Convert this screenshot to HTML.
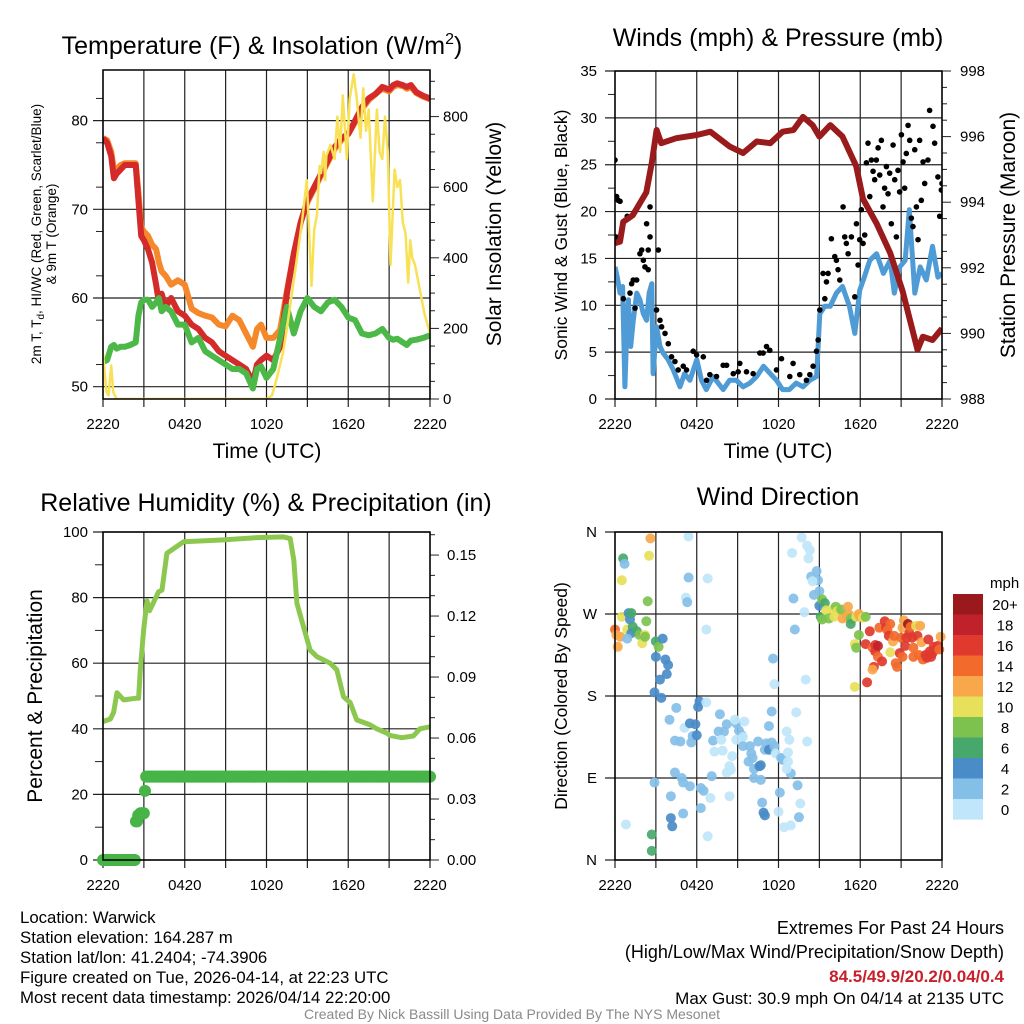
<!DOCTYPE html>
<html><head><meta charset="utf-8"><style>
html,body{margin:0;padding:0;background:#fff;}
svg{display:block;font-family:"Liberation Sans",Arial,sans-serif;}
</style></head><body>
<svg id="chart" width="1024" height="1024" viewBox="0 0 1024 1024" xmlns="http://www.w3.org/2000/svg"></svg>
<script>
// ---------- DATA ----------
const tTimes=[0,0.3,0.6,0.8,1.0,1.3,1.6,2.0,2.4,2.6,2.8,3.0,3.3,3.6,3.9,4.1,4.3,4.6,5.0,5.5,6.0,6.5,7.0,7.5,8.0,8.5,9.0,9.5,10.0,10.5,11.0,11.3,11.6,12.0,12.5,13.0,13.5,14.0,14.5,15.0,15.5,16.0,16.5,17.0,17.5,18.0,18.5,19.0,19.5,20.0,20.5,21.0,21.3,21.6,22.0,22.3,22.6,23.0,23.5,24.0];
const tempRed=[78,77.5,76,73.5,74,74.5,75,75,75,71,67,66.5,65.5,64,61.5,59.5,60.5,59,60,58.5,58,57,56.5,55.5,55,54,53.5,53,52.5,52,50.5,52.5,53,53.5,53,54.5,60.5,65,68.5,71,72.5,74,75.5,77,78,78.5,80,81.5,82.5,83,83.8,83.5,84,84.2,84,83.8,84,83.2,82.8,82.5];
const tempOrange=[78,77.8,76.5,74.5,74.5,75,75.2,75.2,75.2,72,68,67.5,67,66,65.5,64,63,62.5,61.5,62,61.5,58.8,58.3,58,57.8,57,56.8,58,57.5,56,54.5,56.5,57,55.5,55.5,56.4,60.8,65,68.5,70.8,72.3,73.8,75.3,76.8,77.8,78.5,79.8,81.3,82.3,83,83.6,83.3,83.8,84,83.9,83.6,83.8,83.1,82.7,82.4];
const dewGreen=[52.8,53,54.5,54.7,54.3,54.5,54.5,54.7,55,58,59.5,59.8,59.8,59,59.5,60,58.5,59,58.5,57,57,55,55.5,54,53.5,53,52.5,52,52,51.5,49.8,52,52.3,51,52,55.5,59,56,58.5,60,59,58.5,59.5,59.8,59,57.8,57.5,56,55.8,56,56.5,55.5,55.3,55.4,55,54.7,55.2,55.3,55.5,55.8];
const solTimes=[0,0.25,0.4,0.6,0.75,1.0,12.0,12.4,12.76,13.2,13.5,14.2,14.6,14.96,15.1,15.3,15.5,15.7,15.9,16.0,16.2,16.3,16.4,16.7,17.0,17.2,17.4,17.6,17.9,18.1,18.4,18.6,18.9,19.1,19.3,19.5,19.8,20.1,20.3,20.5,20.7,20.9,21.1,21.4,21.6,21.8,22.0,22.2,22.4,22.55,22.7,22.9,23.3,23.6,24];
const solar=[130,20,10,95,20,0,0,10,60,130,200,390,500,620,500,320,480,520,660,640,700,620,690,720,680,800,700,860,680,850,920,860,740,880,760,820,560,820,700,680,800,700,380,650,600,620,500,470,330,450,400,380,300,240,186];
const presTimes=[0,0.37,0.6,1.3,2.3,2.7,3.05,3.4,4.5,6,7,8.4,9.4,10.4,11.4,12.3,13.1,13.8,14.5,15,15.8,16.7,17.7,18.2,19.2,20.2,21.1,22.2,22.6,23.3,24];
const pressure=[992.75,992.8,993.4,993.6,994.3,995.2,996.2,995.8,995.95,996.05,996.15,995.7,995.5,995.85,995.8,996.15,996.2,996.6,996.35,996,996.35,996,995.1,994.1,993.35,992.45,991.3,989.5,989.9,989.8,990.15];
const windTimes=[0,0.17,0.37,0.56,0.73,0.86,0.98,1.15,1.34,1.6,1.83,2.08,2.32,2.5,2.7,2.8,3.05,3.3,3.54,3.9,4.28,4.77,5.1,5.5,6,6.35,6.7,7.2,7.94,8.4,8.9,9.4,9.9,10.4,10.9,11.4,11.85,12.3,12.8,13.3,13.8,14.3,14.8,15.03,15.4,15.8,16.25,16.7,17.2,17.6,17.96,18.3,18.7,19.2,19.7,20.2,20.5,20.9,21.3,21.6,22,22.4,22.85,23.3,23.7,24];
const windSpeed=[14.1,13,11.3,12,1.3,7,10.6,5.6,8.4,11.3,10.6,9.1,8.4,11.3,12.3,2.7,7.7,5.6,4.9,4.2,3.1,1.3,2.7,2,4.2,2,1,2.4,1,2,2,1.3,1.7,2.4,3.5,2.7,2,1,1,1.7,1.3,2,2.4,9.1,9.9,9.9,11.3,12,9.9,7,11.6,13,14.8,15.5,13.4,14.8,11.3,14.1,14.8,20.2,11.3,14.1,12.7,16.3,13,13.4];
const gustTimes=[0,0.12,0.24,0.37,0.07,0.61,1.1,1.22,1.34,0.9,1.47,1.59,1.83,1.96,2.08,2.2,2.32,2.44,2.57,2.57,2.44,3.18,3.05,3.3,3.42,3.67,3.91,4.15,4.4,4.64,5.01,5.25,5.74,5.99,6.48,6.72,6.96,7.45,7.94,8.19,8.68,9.04,9.16,9.65,10.14,10.63,10.87,11.12,11.36,11.85,12.22,12.83,13.07,13.56,14.05,14.3,14.54,14.79,14.91,15.03,15.27,15.4,15.52,15.64,15.88,16.13,16.25,16.37,16.5,16.74,16.86,16.98,17.11,17.35,17.6,17.72,17.84,17.96,18.08,18.21,18.33,18.45,18.57,18.7,18.82,18.94,19.06,19.18,19.31,19.43,19.55,19.67,19.79,19.92,20.04,20.16,20.28,20.41,20.53,20.65,20.77,20.89,21.02,21.14,21.26,21.38,21.51,21.63,21.75,21.87,22.0,22.12,22.24,22.36,22.48,22.61,22.73,22.97,23.09,23.34,23.46,23.7,23.83,23.95,24.0];
const gustSpeed=[25.5,21.6,21.2,21.1,17.3,10.7,11.3,12.3,12.7,19.5,9.7,12.7,15.5,15.9,14.8,14.1,18.7,15.9,17.3,20.5,13.8,15.9,9.5,8.4,7.7,7.0,5.9,4.5,4.0,3.1,3.5,3.1,5.1,4.7,4.5,2.0,2.6,2.4,3.6,3.6,2.7,2.9,3.8,2.9,2.7,4.9,4.9,5.6,5.2,3.1,4.3,2.4,3.8,2.6,2.0,2.6,3.5,5.1,6.3,9.5,13.4,10.7,12.5,13.4,17.1,15.2,14.8,13.8,12.7,20.5,17.3,16.6,15.5,17.3,10.9,18.7,14.3,17.0,20.2,16.6,17.5,25.2,27.3,21.6,25.5,24.3,23.4,25.5,26.8,23.9,27.6,20.5,22.5,24.8,21.9,24.1,18.7,27.1,23.4,17.3,24.4,22.1,28.2,25.3,22.5,26.2,29.2,27.6,19.3,18.4,26.6,20.5,17.0,27.6,21.2,25.3,23.0,25.5,30.8,29.1,27.3,23.7,19.5,22.3,23.0];
const rhTimes=[0,0.54,0.78,1.03,1.52,2.37,2.61,2.74,2.98,3.23,3.42,4.08,4.33,4.69,5.91,8.85,11.3,13.25,13.74,14.0,14.23,14.72,15.2,15.7,16.67,17.16,17.65,18.14,18.62,19.6,20.09,20.82,21.06,21.92,22.78,23.26,24];
const rh=[42.2,43,45,51,48.8,49.3,49.3,58,70,79,76,81.8,82.3,93.5,97,97.6,98.3,98.5,98,91.5,78.3,71,64,62,60,58,49.8,48,42.7,41.2,40,38.7,38,37.3,37.8,40,40.6];
const precipStepStart=[0,2.35,2.55,2.75,3.05,3.15];
const precipStepValue=[0,0.019,0.022,0.023,0.034,0.041];
const dirTimes=[0,0.1,0.4,0.2,0.5,0.9,0.6,0.7,0.5,1.0,1.1,1.2,1.3,1.2,1.6,1.8,2.0,2.2,2.3,2.4,2.6,2.5,2.2,0.9,3.0,3.2,3.5,3.0,3.7,3.9,3.8,3.3,2.9,3.4,4.0,4.5,4.4,4.8,5.1,5.5,5.9,5.6,5.7,6.0,6.1,6.2,6.7,7.7,8.2,8.9,9.5,8.8,7.6,8.0,9.1,9.3,9.4,7.2,7.8,7.9,7.3,8.9,8.6,9.4,9.9,10.0,10.1,9.8,10.2,10.6,10.7,10.5,11.0,11.1,11.5,11.3,11.7,11.8,12.2,12.3,12.7,12.8,12.6,13.3,11.6,11.7,14.0,14.1,11.3,11.5,8.4,8.5,8.2,7.1,6.3,6.5,7.0,8.4,6.3,5.0,4.1,4.4,4.9,5.0,5.5,2.9,4.1,4.2,6.8,0.8,2.7,2.7,10.8,10.9,11.0,10.2,10.7,12.1,12.0,12.4,12.9,13.5,13.6,13.4,12.9,12.6,12.7,5.4,5.4,6.8,5.2,5.3,6.7,13.7,13.0,14.1,14.3,14.2,13.1,13.9,13.2,14.4,14.8,14.9,14.5,15.0,14.6,15.0,15.2,15.4,15.1,15.2,15.5,15.7,16.0,16.2,16.1,16.3,16.6,16.7,17.0,17.1,17.2,17.3,17.4,17.3,17.7,17.9,18.0,18.2,18.4,17.9,17.6,17.7,17.6,18.4,18.5,18.7,18.9,19.0,18.9,19.1,19.1,19.3,19.4,19.3,19.6,19.8,19.9,20.0,20.1,20.2,20.2,20.4,20.5,20.6,20.7,20.9,21.0,21.1,21.1,21.2,21.3,21.4,21.5,21.6,21.7,21.8,21.9,22.1,22.2,22.3,22.4,22.5,22.6,22.7,22.9,23.0,23.1,23.3,23.4,23.5,23.7,23.8,23.9,22.8,23.2,21.9];
const dirDeg=[253,247,245,234,267,253,331,325,307,271,264,271,256,249,251,247,238,247,262,284,353,334,245,243,240,234,243,223,220,214,204,198,184,178,154,167,131,130,145,150,149,129,136,137,168,174,173,160,149,150,152,154,141,141,142,137,135,131,132,120,119,132,114,125,125,117,112,108,100,103,104,130,121,128,129,121,125,117,112,110,118,132,141,162,221,193,198,130,147,163,103,99,96,92,79,76,68,70,57,51,70,96,90,85,81,85,46,37,26,39,28,10,63,52,49,90,88,74,53,36,38,47,62,82,95,100,108,355,310,309,288,283,253,354,337,345,340,331,287,272,253,311,317,307,306,295,291,279,286,282,267,264,274,265,275,278,267,273,275,265,267,278,269,265,264,259,267,270,267,266,267,247,237,233,190,237,195,251,233,212,209,236,229,235,255,223,218,262,255,252,246,228,259,240,246,216,212,227,244,255,223,263,235,244,259,249,256,244,233,257,246,225,257,239,220,224,222,242,229,227,234,231,235,231,245,225,223,223];
const dirSpeed=[14,12,12,12,10,10,6,2,10,4,4,6,6,4,6,8,10,10,8,8,12,10,8,2,6,8,4,4,4,4,4,4,4,4,2,2,2,2,0,4,4,2,2,4,4,4,0,2,2,2,0,0,2,2,2,2,0,2,0,0,0,0,0,2,2,2,2,2,2,4,4,2,2,2,2,4,2,0,2,2,0,0,0,0,2,0,0,0,2,2,0,0,0,2,2,2,0,0,2,2,2,2,2,2,2,2,4,4,0,0,6,6,2,4,4,2,2,2,0,0,0,2,0,2,2,0,0,0,2,0,0,2,0,0,0,0,0,0,2,0,2,2,2,2,0,2,2,4,8,6,6,8,10,8,10,8,10,10,8,12,12,12,12,8,8,6,10,12,12,10,8,8,10,8,10,16,16,16,14,16,12,16,16,18,14,14,16,16,16,14,16,10,14,12,14,14,14,16,14,12,14,12,16,16,20,16,14,16,14,10,16,14,12,12,14,14,16,16,16,16,16,16,16,14,12,16,16,14];
const speedColors=["#bfe6fa","#84bfe8","#4a8cc8","#46a86a","#7dc24e","#e6e05a","#f8a84a","#f26a2c","#e03a2e","#c0212a","#99191c"];
const speedLabels=["0","2","4","6","8","10","12","14","16","18","20+"];
const timeLabels=["2220","0420","1020","1620","2220"];

// ---------- HELPERS ----------
const svg=document.getElementById('chart');
const NS='http://www.w3.org/2000/svg';
function mk(tag,attrs,parent){const e=document.createElementNS(NS,tag);for(const k in attrs)e.setAttribute(k,attrs[k]);(parent||svg).appendChild(e);return e;}
function txt(s,x,y,size,anchor,parent,extra){const e=mk('text',Object.assign({x:x,y:y,'font-size':size,'text-anchor':anchor||'middle',fill:'#000'},extra||{}),parent);e.textContent=s;return e;}
function pathOf(xs,ys,fx,fy){let d='';for(let i=0;i<xs.length;i++){d+=(i?'L':'M')+fx(xs[i]).toFixed(1)+','+fy(ys[i]).toFixed(1);}return d;}

const W=327;
const TK=15;
function frame(x0,y0,x1,y1,name){
  const r=mk('rect',{x:x0,y:y0,width:x1-x0,height:y1-y0,fill:'none',stroke:'#000','stroke-width':1.5});
  
  
}
function vgrid(x0,y0,y1,g){
  for(let k=0;k<=8;k++){const x=x0+k*W/8;
    const l=mk('line',{x1:x,x2:x,y1:y0,y2:y1+8,stroke:'#222','stroke-width':1.2},g);
    
    }
  for(let i=0;i<timeLabels.length;i++){const t=txt(timeLabels[i],x0+i*W/4,y1+30,TK,'middle',g);
    
    }
}
function hgrid(x0,ys,g){for(const y of ys){const l=mk('line',{x1:x0-10,x2:x0+W,y1:y,y2:y,stroke:'#222','stroke-width':1.2},g);
  
  }}
function ticks(x,ys,len,g){for(const y of ys){const l=mk('line',{x1:x,x2:x+len,y1:y,y2:y,stroke:'#222','stroke-width':1},g);
  
  }}

// ---------- PANEL 1 ----------
(function(){
const g=mk('g',{});


const X=h=>103+h*W/24, YT=t=>386.7-(t-50)*8.87, YS=w=>399-w*0.353;
vgrid(103,70,399,g);
hgrid(103,[50,60,70,80].map(YT),g);
const mins=[];for(let t=52.5;t<=85;t+=5)mins.push(YT(t));ticks(103,mins,-7,g);
const rmaj=[],rmin=[];for(let w=0;w<=900;w+=50){(w%200===0?rmaj:rmin).push(YS(w));}
ticks(430,rmaj,9,g);ticks(430,rmin,5,g);
[50,60,70,80].forEach(t=>{const e=txt(String(t),88,YT(t)+5,TK,'end',g);
  
  });
[0,200,400,600,800].forEach(w=>{const e=txt(String(w),443,YS(w)+5,TK,'start',g);
  
  });
const clip=mk('clipPath',{id:'c1'},g);mk('rect',{x:103,y:70,width:W,height:329},clip);
const pg=mk('g',{'clip-path':'url(#c1)'},g);
const o=mk('path',{d:pathOf(tTimes,tempOrange,X,YT),fill:'none',stroke:'#f5882a','stroke-width':6,'stroke-linejoin':'round'},pg);


const r=mk('path',{d:pathOf(tTimes,tempRed,X,YT),fill:'none',stroke:'#d42a2a','stroke-width':6,'stroke-linejoin':'round'},pg);


const gr=mk('path',{d:pathOf(tTimes,dewGreen,X,YT),fill:'none',stroke:'#4cb848','stroke-width':6,'stroke-linejoin':'round'},pg);


const s=mk('path',{d:pathOf(solTimes,solar,X,YS),fill:'none',stroke:'#f9e155','stroke-width':2.5,'stroke-linejoin':'round'},pg);


frame(103,70,430,399,'temperature-plot-frame');
const t=txt('Temperature (F) & Insolation (W/m',262,54,25,'middle',g);
const sup=mk('tspan',{'font-size':16,dy:-10},t);sup.textContent='2';
const cl=mk('tspan',{'font-size':25,dy:10},t);cl.textContent=')';


const yl=txt('',0,0,13.5,'middle',g,{transform:'translate(41,234) rotate(-90)'});
yl.innerHTML='2m T, T<tspan font-size="10" dy="3">d</tspan><tspan dy="-3">, HI/WC (Red, Green, Scarlet/Blue)</tspan>';


const yl2=txt('& 9m T (Orange)',0,0,13.5,'middle',g,{transform:'translate(56,234) rotate(-90)'});


const yr=txt('Solar Insolation (Yellow)',0,0,21,'middle',g,{transform:'translate(501,234) rotate(-90)'});


const xt=txt('Time (UTC)',267,458,21,'middle',g);


})();

// ---------- PANEL 2 ----------
(function(){
const g=mk('g',{});


const X=h=>615+h*W/24, YW=v=>399-v*9.371, YP=p=>399-(p-988)*32.8;
vgrid(615,71,399,g);
hgrid(615,[0,5,10,15,20,25,30,35].map(YW),g);
const mins=[];for(let v=2.5;v<35;v+=5)mins.push(YW(v));ticks(615,mins,-7,g);
const rmaj=[],rmin=[];for(let p=988;p<=998.01;p+=0.5){(Math.abs(p%2)<0.01?rmaj:rmin).push(YP(p));}
ticks(942,rmaj,9,g);ticks(942,rmin,5,g);
[0,5,10,15,20,25,30,35].forEach(v=>{const e=txt(String(v),597,YW(v)+5,TK,'end',g);
  
  });
[988,990,992,994,996,998].forEach(p=>{const e=txt(String(p),960,YP(p)+5,TK,'start',g);
  
  });
const clip=mk('clipPath',{id:'c2'},g);mk('rect',{x:615,y:71,width:W,height:328},clip);
const pg=mk('g',{'clip-path':'url(#c2)'},g);
const b=mk('path',{d:pathOf(windTimes,windSpeed,X,YW),fill:'none',stroke:'#4f9bd6','stroke-width':5,'stroke-linejoin':'round'},pg);


for(let i=0;i<gustTimes.length;i++){const c=mk('circle',{cx:X(gustTimes[i]),cy:YW(gustSpeed[i]),r:2.8,fill:'#000'},pg);
  
  }
const p=mk('path',{d:pathOf(presTimes,pressure,X,YP),fill:'none',stroke:'#991b1b','stroke-width':6,'stroke-linejoin':'round'},pg);


frame(615,71,942,399,'winds-plot-frame');
const t=txt('Winds (mph) & Pressure (mb)',778,46,25,'middle',g);


const yl=txt('Sonic Wind & Gust (Blue, Black)',0,0,17.5,'middle',g,{transform:'translate(567,235) rotate(-90)'});


const yr=txt('Station Pressure (Maroon)',0,0,21,'middle',g,{transform:'translate(1015,235) rotate(-90)'});


const xt=txt('Time (UTC)',778,458,21,'middle',g);


})();

// ---------- PANEL 3 ----------
(function(){
const g=mk('g',{});


const X=h=>103+h*W/24, YR=r=>860-r*3.28, YPr=p=>860-p*2033;
vgrid(103,532,860,g);
hgrid(103,[0,20,40,60,80,100].map(YR),g);
const mins=[];for(let r=10;r<100;r+=20)mins.push(YR(r));ticks(103,mins,-8,g);
const rmaj=[],rmin=[];for(let k=0;k<=16;k++){(k%3===0?rmaj:rmin).push(YPr(k*0.01));}
ticks(430,rmaj,9,g);ticks(430,rmin,5,g);
[0,20,40,60,80,100].forEach(r=>{const e=txt(String(r),88,YR(r)+5,TK,'end',g);
  
  });
[0,0.03,0.06,0.09,0.12,0.15].forEach(p=>{const e=txt(p.toFixed(2),447,YPr(p)+5,TK,'start',g);
  
  });
const clip=mk('clipPath',{id:'c3'},g);mk('rect',{x:96,y:525,width:W+14,height:342},clip);
const pg=mk('g',{'clip-path':'url(#c3)'},g);
const l=mk('path',{d:pathOf(rhTimes,rh,X,YR),fill:'none',stroke:'#8cc850','stroke-width':5,'stroke-linejoin':'round'},pg);


for(let m=0;m<=288;m++){const h=m/12;let v=0;
  for(let k=0;k<precipStepStart.length;k++){if(h>=precipStepStart[k])v=precipStepValue[k];}
  const c=mk('circle',{cx:X(h),cy:YPr(v),r:6,fill:'#46b446'},pg);
  
  }
frame(103,532,430,860,'humidity-plot-frame');
const t=txt('Relative Humidity (%) & Precipitation (in)',266,511,25,'middle',g);


const yl=txt('Percent & Precipitation',0,0,21,'middle',g,{transform:'translate(42,696) rotate(-90)'});


})();

// ---------- PANEL 4 ----------
(function(){
const g=mk('g',{});


const X=h=>615+h*W/24, YD=d=>860-d*328/360;
vgrid(615,532,860,g);
hgrid(615,[0,90,180,270,360].map(YD),g);
const dl=['N','E','S','W','N'];
[0,90,180,270,360].forEach((d,i)=>{const e=txt(dl[i],597,YD(d)+5,TK,'end',g);
  
  });
for(let i=0;i<dirTimes.length;i++){const ci=Math.min(10,Math.floor(dirSpeed[i]/2));
  const c=mk('circle',{cx:X(dirTimes[i]),cy:YD(dirDeg[i]),r:5,fill:speedColors[ci],'fill-opacity':0.92},g);
  
  }
frame(615,532,942,860,'direction-plot-frame');
const t=txt('Wind Direction',778,505,25,'middle',g);


const yl=txt('Direction (Colored By Speed)',0,0,17.5,'middle',g,{transform:'translate(567,696) rotate(-90)'});


const cb=mk('g',{},g);


const u=txt('mph',990,588,15,'start',cb);


for(let k=0;k<11;k++){const idx=10-k;const y=594+k*20.5;
  const r=mk('rect',{x:953,y:y,width:30,height:20.6,fill:speedColors[idx]},cb);
  
  
  const e=txt(speedLabels[idx],1005,y+16,15,'middle',cb);
  
  }
})();

// ---------- FOOTER TEXT ----------
const left=["Location: Warwick","Station elevation: 164.287 m","Station lat/lon: 41.2404; -74.3906","Figure created on Tue, 2026-04-14, at 22:23 UTC","Most recent data timestamp: 2026/04/14 22:20:00"];
left.forEach((s,i)=>{const e=txt(s,20,923+i*20,16.8,'start');
  
  });
const r1=txt('Extremes For Past 24 Hours',1004,934,18,'end');


const r2=txt('(High/Low/Max Wind/Precipitation/Snow Depth)',1004,958,18,'end');


const r3=txt('84.5/49.9/20.2/0.04/0.4',1004,982,17,'end',null,{fill:'#c8202a','font-weight':'bold'});


const r4=txt('Max Gust: 30.9 mph On 04/14 at 2135 UTC',1004,1004,17,'end');


const f=txt('Created By Nick Bassill Using Data Provided By The NYS Mesonet',512,1019,14,'middle',null,{fill:'#8a8a8a'});


</script>
</body></html>
